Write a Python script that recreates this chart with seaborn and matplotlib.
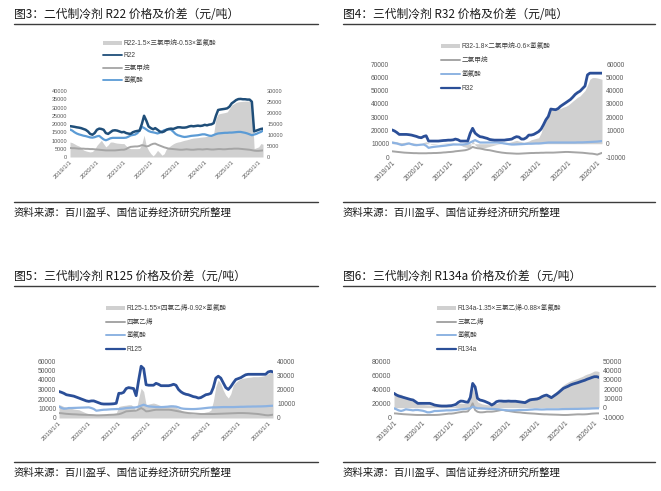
import pandas as pd
import seaborn as sns
import matplotlib.pyplot as plt
from matplotlib.lines import Line2D
from matplotlib.patches import Patch

sns.set_style('white')
plt.rcParams['font.family'] = ['Liberation Sans', 'Noto Sans CJK SC']
plt.rcParams['axes.unicode_minus'] = False

# monthly readings, 2019-01 .. 2026-03
dates = pd.date_range('2019-01-01', '2026-03-01', freq='MS')
tick_years = pd.to_datetime([f'{y}-01-01' for y in range(2019, 2027)])
tick_labels = [f'{y}/1/1' for y in range(2019, 2027)]

# --- fig 3: R22 ---
r22 = [
    18700, 18500, 18300, 18000, 17800, 17500, 17000, 16500, 15500, 14000, 13500, 14500,
    16500, 17200, 17000, 16500, 14500, 14000, 15000, 16000, 16200, 16000, 15500, 15000,
    15200, 14500, 14200, 14000, 15000, 15500, 15800, 16000, 20000, 25000, 22000, 18500,
    17500, 16800, 17500, 16500, 15500, 15000, 15500, 16500, 17000, 17200, 17000, 17500,
    18000, 18000, 17800, 17800, 18000, 18500, 18800, 18600, 18800, 19000, 18800, 19000,
    19500, 19200, 19600, 19800, 20500, 25000, 28500, 28800, 29000, 29200, 29500, 30500,
    32500, 33500, 34500, 35100, 35200, 35000, 35000, 34800, 34800, 33500, 15500, 16000,
    16500, 17000, 17200]
hf_r22 = [
    12500, 12000, 11300, 10700, 10300, 10000, 9700, 9500, 9200, 8900, 8800, 9000,
    9400, 9600, 8800, 8000, 7600, 8000, 8500, 8700, 8700, 8700, 8700, 8700,
    8700, 8800, 9200, 9800, 10000, 10200, 10800, 12000, 13700, 13200, 12500, 11800,
    11400, 11200, 11000, 10700, 11000, 11600, 12200, 12400, 12600, 12400, 11500, 10500,
    9900, 9600, 9300, 9100, 9200, 9400, 9600, 9700, 9800, 9900, 10100, 10300,
    10300, 10000, 9700, 9600, 10000, 10400, 10700, 10800, 10900, 11000, 11000, 11100,
    11100, 11200, 11300, 11400, 11400, 11200, 11000, 10700, 10300, 9900, 10200, 10500,
    11000, 11400, 12000]
chcl3 = [
    4100, 4000, 4000, 3900, 3800, 3800, 3800, 3700, 3700, 3600, 3600, 3500,
    3400, 3300, 3200, 3100, 3000, 3000, 3000, 3000, 3000, 3100, 3200, 3300,
    3300, 3600, 4200, 4600, 4700, 4800, 4800, 5000, 5400, 5200, 4800, 5000,
    5600, 6000, 6100, 5600, 5200, 4800, 4400, 4100, 3800, 3700, 3600, 3500,
    3400, 3300, 3300, 3400, 3500, 3400, 3300, 3300, 3400, 3500, 3500, 3400,
    3500, 3600, 3500, 3400, 3400, 3500, 3600, 3600, 3500, 3500, 3600, 3700,
    3700, 3800, 3800, 3800, 3700, 3600, 3500, 3400, 3300, 3100, 2900, 2800,
    2800, 2900, 3000]
spread_r22 = [
    6800, 6500, 6000, 5400, 5000, 4300, 3200, 2800, 2500, 2300, 2500, 3500,
    5300, 6500, 7600, 6000, 4600, 5500, 6800, 6800, 6500, 6300, 6200, 6100,
    6100, 5000, 4200, 3800, 3800, 3800, 3800, 3900, 6000, 9900, 5000, 3000,
    1500, 500, 1500, 3000, 2000, 800, 1500, 3800, 4500, 5300, 6000, 6500,
    6800, 7000, 7300, 7600, 7800, 8100, 8400, 8600, 8700, 8800, 9000, 9100,
    9200, 9400, 9600, 9800, 10500, 17500, 19500, 19800, 20000, 20200, 20500, 22000,
    23600, 24200, 24800, 25100, 25200, 25300, 25400, 25400, 25400, 24300, 3800, 4200,
    4600, 6100, 5800]

# --- fig 4: R32 ---
r32 = [
    20400, 19600, 18500, 17000, 17000, 17000, 17000, 16800, 16500, 16000, 15500, 14800,
    14500, 15500, 16000, 12000, 12000, 12000, 12000, 12000, 12200, 12400, 12500, 12700,
    12700, 12900, 13500, 13000, 12000, 12000, 12000, 12000, 17800, 21600, 18000, 16500,
    15300, 15000, 14500, 14000, 13200, 12900, 12700, 12700, 12700, 12700, 12700, 13000,
    13200, 13500, 14500, 15300, 15000, 13500, 13500, 14500, 16500, 16500, 17000, 18000,
    19100, 21000, 24200, 28000, 30500, 36100, 35800, 35600, 36500, 38200, 39500, 40700,
    42000, 43300, 45000, 47100, 48500, 49600, 51500, 53400, 61800, 63100, 63100, 63100,
    63100, 63100, 63100]
hf_r32 = [
    10900, 10500, 10200, 9600, 9000, 9300, 9800, 10200, 9600, 9100, 8900, 9100,
    9300, 9400, 8500, 6900, 7300, 7600, 7800, 8000, 8200, 8400, 8600, 8900,
    9100, 9400, 9400, 9400, 9400, 9400, 9600, 10000, 10900, 11800, 12700, 11800,
    10900, 10900, 10900, 10900, 10900, 10900, 10900, 10900, 10700, 10500, 10200, 9900,
    9600, 9400, 9400, 9500, 9600, 9700, 9800, 9900, 10000, 10000, 10100, 10200,
    10200, 10300, 10500, 10700, 10900, 10900, 10900, 10900, 10900, 10900, 10900, 10900,
    10900, 10900, 10900, 10900, 11000, 11000, 11000, 11100, 11200, 11300, 11400, 11500,
    11600, 11800, 12000]
ch2cl2 = [
    4300, 4100, 3900, 3700, 3500, 3300, 3200, 3100, 3000, 2900, 2900, 2800,
    2800, 2800, 2800, 2900, 2900, 3000, 3000, 3100, 3200, 3400, 3500, 3700,
    3800, 4000, 4300, 4500, 4700, 4900, 5100, 5600, 6400, 7600, 7000, 6600,
    6400, 6000, 5600, 5300, 5100, 4700, 4300, 3900, 3600, 3300, 3100, 2900,
    2800, 2700, 2600, 2500, 2500, 2600, 2700, 2800, 2900, 3000, 3000, 3100,
    3100, 3200, 3200, 3300, 3300, 3300, 3300, 3400, 3500, 3600, 3700, 3800,
    3800, 3700, 3600, 3500, 3400, 3300, 3200, 3000, 2800, 2600, 2500, 2200,
    1800, 2500, 3100]
spread_r32 = [
    2000, 1800, 1500, 1000, 800, 1000, 1200, 1000, 800, 500, 300, 0,
    0, 1000, 1500, 500, -500, -500, -300, 0, 200, 300, 500, 500,
    500, 500, 300, 0, -1000, -2000, -2500, -3000, -2500, 3000, -1000, -2500,
    -3000, -3500, -3000, -2500, -2000, -1500, -1000, -500, -200, 0, 500, 800,
    1000, 1500, 2000, 2500, 2000, 1500, 1000, 1500, 2000, 3000, 3500, 4000,
    4500, 8000, 14000, 19000, 24000, 25500, 25000, 25500, 26000, 26500, 27500, 28000,
    29000, 30500, 32000, 33500, 35000, 36000, 38000, 40000, 44000, 48500, 49800, 49800,
    49500, 49000, 48500]

# --- fig 5: R125 ---
r125 = [
    27900, 27000, 26000, 24500, 24000, 23500, 23000, 22000, 21000, 20000, 19000, 18000,
    17500, 18000, 18000, 17000, 16000, 15000, 14700, 14700, 14700, 14800, 15000, 15500,
    26000, 26000, 27000, 31000, 32000, 31500, 31000, 23500, 40000, 54500, 52000, 35000,
    34500, 34500, 34500, 36500, 35500, 34000, 34000, 34000, 34000, 34500, 35500, 34500,
    30000, 27500, 26000, 25000, 24500, 23500, 22500, 22000, 21000, 21500, 23000, 24500,
    25000, 26000, 32000, 42000, 44000, 42000, 37000, 32000, 30000, 33000, 37000, 40500,
    41500, 42500, 44000, 45500, 46000, 46000, 46000, 46000, 46000, 46000, 46000, 46000,
    48500, 49200, 48500]
hf_r125 = [
    12200, 10500, 9800, 10000, 10500, 10500, 10600, 10700, 10800, 10900, 11000, 11100,
    11200, 10500, 9500, 7700, 8000, 8400, 8700, 8800, 9000, 9200, 9300, 9400,
    9500, 9700, 10000, 10500, 10700, 10900, 11000, 11200, 12000, 13000, 14000, 13000,
    12200, 12000, 11800, 11600, 11500, 11500, 11600, 11800, 12000, 12200, 12200, 12000,
    11200, 10200, 9800, 9600, 9500, 9400, 9400, 9500, 9700, 9900, 10200, 10500,
    10800, 11000, 11200, 11200, 11300, 11400, 11500, 11500, 11500, 11500, 11500, 11600,
    11700, 11800, 11800, 11900, 12000, 12000, 12100, 12100, 12200, 12200, 12300, 12400,
    12600, 12800, 12900]
c2cl4 = [
    5200, 5000, 4700, 4400, 4200, 4000, 3900, 3800, 3600, 3500, 3400, 3300,
    3200, 3100, 3000, 2800, 2800, 2900, 3000, 3100, 3300, 3400, 3500, 3700,
    4000, 4800, 5800, 7000, 7200, 7400, 7600, 7700, 9000, 10500, 9000, 7000,
    7200, 7800, 8300, 8700, 8700, 8700, 8700, 8700, 8700, 8500, 8000, 7500,
    7000, 6500, 6000, 5600, 5200, 5000, 4800, 4600, 4400, 4200, 4200, 4200,
    4200, 4200, 4200, 4300, 4400, 4500, 4600, 4700, 4800, 4900, 5000, 5100,
    5200, 5200, 5200, 5100, 5000, 4800, 4600, 4400, 4200, 3800, 3400, 3000,
    2800, 3100, 3500]
spread_r125 = [
    9300, 8800, 8000, 7500, 7000, 6700, 6300, 6000, 5800, 5000, 4200, 3500,
    3000, 2600, 2400, 2300, 2300, 2300, 2300, 2300, 2500, 2800, 3200, 3500,
    8100, 8500, 8800, 9000, 9300, 9300, 8000, 4700, 14000, 20900, 18600, 9300,
    9800, 10200, 10500, 10000, 9300, 8600, 8100, 8500, 9000, 9300, 9000, 7500,
    6500, 5500, 4700, 4000, 3500, 3000, 2800, 2800, 3000, 3500, 3800, 4200,
    4500, 5500, 11600, 22000, 26700, 24000, 19500, 16000, 14000, 17000, 23300, 25000,
    26500, 27500, 27900, 28200, 28500, 28700, 29000, 29000, 29000, 29200, 29500, 30000,
    31000, 32600, 31400]

# --- fig 6: R134a ---
r134a = [
    33800, 31500, 30000, 29000, 28000, 27000, 26000, 25000, 24300, 22000, 19500, 19500,
    19500, 19500, 19500, 19500, 18500, 17100, 16500, 16000, 15700, 15700, 15700, 16000,
    16200, 17000, 18100, 21000, 22800, 22500, 21500, 21000, 28000, 48000, 43000, 26700,
    24300, 23500, 22500, 21000, 19500, 17100, 19000, 21900, 22800, 22800, 22500, 22500,
    22800, 22500, 22500, 22500, 22000, 21500, 21000, 20500, 22500, 24300, 25000, 25300,
    25700, 27000, 29000, 30500, 31400, 29500, 27600, 30000, 32400, 35000, 38000, 40900,
    42500, 44000, 45700, 47000, 48000, 49000, 50200, 51400, 52500, 54000, 55200, 56500,
    57600, 57600, 56600]
hf_r134a = [
    12400, 11000, 9500, 8600, 9500, 11000, 10500, 10000, 9500, 10000, 10000, 9500,
    9000, 8000, 6700, 6700, 7500, 8600, 8600, 8800, 9000, 9200, 9500, 9500,
    9500, 9800, 10000, 10500, 11000, 11200, 11500, 12000, 12400, 14800, 13500, 12400,
    12400, 12200, 12000, 11800, 11600, 11400, 11400, 11200, 11000, 10500, 10000, 9700,
    9500, 9500, 9500, 9600, 9800, 10000, 10000, 10000, 10200, 10500, 10700, 11000,
    11000, 10800, 10700, 10800, 11000, 11000, 11000, 11000, 11000, 11000, 11200, 11300,
    11400, 11400, 11500, 11500, 11600, 11600, 11700, 11800, 11800, 11900, 12000, 12200,
    12300, 12400, 12400]
tce = [
    5200, 5000, 4600, 4300, 4000, 3800, 3600, 3400, 3200, 3000, 2900, 2900,
    2900, 2900, 2900, 2900, 2900, 2900, 3000, 3200, 3600, 4000, 4400, 4800,
    4800, 5200, 5800, 6500, 7000, 7600, 7600, 8000, 12400, 19500, 10000, 7500,
    6700, 6700, 7000, 7600, 7600, 7600, 8000, 8600, 9300, 10000, 10000, 9000,
    8600, 8000, 7500, 7000, 6700, 6500, 6000, 5700, 5400, 5200, 5000, 4800,
    4500, 4200, 4000, 3800, 3800, 3600, 3500, 3400, 3300, 3200, 3000, 2900,
    2900, 3000, 3200, 3400, 3600, 3800, 3800, 3700, 3800, 4000, 4400, 4800,
    5000, 5200, 5200]
spread_r134a = [
    16000, 15200, 14700, 14300, 12500, 11500, 10700, 9500, 8200, 6500, 4600, 4000,
    3500, 3200, 3000, 2900, 2700, 2500, 2300, 2200, 2100, 2000, 1800, 1500,
    1200, 1100, 2500, 4600, 4800, 4600, 4600, 4600, 11800, 20700, 14000, 6400,
    5000, 4000, 3600, 3200, 2900, 3000, 4000, 4600, 5500, 6500, 7300, 8000,
    8200, 8200, 7500, 7000, 6400, 6400, 6800, 8000, 10000, 10500, 11000, 11500,
    11800, 12300, 12800, 13500, 14500, 14000, 13000, 15400, 17100, 19500, 22000, 24300,
    26000, 27500, 28600, 29500, 30500, 31400, 32500, 33500, 35000, 36000, 36800, 38000,
    39300, 39300, 38600]

W, H = 661, 491
fig = plt.figure(figsize=(W / 100, H / 100), dpi=100)

FILL = '#d0d0d0'
GRAY = '#a5a5a5'
TXT = '#595959'
NAVY = '#1f4e79'
BLUE = '#2b4f98'
MIDBLUE = '#5b9bd5'
LIGHTBLUE = '#8db3e2'


def fx(px):
    return px / W


def fy(py):
    return 1 - py / H


def header(x0, x1, y_title, y_top, y_bot, y_src, title):
    fig.text(fx(x0), fy(y_title), title, fontsize=8.5, va='center', ha='left',
             color='#1a1a1a', family=['Noto Sans CJK SC'])
    for y in (y_top, y_bot):
        fig.add_artist(Line2D([fx(x0), fx(x1)], [fy(y), fy(y)], color='#3c3c3c', lw=1.0))
    fig.text(fx(x0), fy(y_src), '资料来源：百川盈孚、国信证券经济研究所整理', fontsize=7.5,
             va='center', ha='left', color='#1a1a1a', family=['Noto Sans CJK SC'])


def panel(box, df, spread_col, right_lines, left_lines, llim, rlim, ysize, xsize,
          leg_xy, leg_gap, leg_items):
    x0, y0, x1, y1 = box
    ax = fig.add_axes([fx(x0), fy(y1), (x1 - x0) / W, (y1 - y0) / H])
    ax2 = ax.twinx()
    ax2.fill_between(df['date'], 0, df[spread_col], color=FILL, lw=0)
    for col, c, lw in right_lines:
        sns.lineplot(data=df, x='date', y=col, ax=ax2, color=c, lw=lw)
    for col, c, lw in left_lines:
        sns.lineplot(data=df, x='date', y=col, ax=ax, color=c, lw=lw)
    ax.set_zorder(ax2.get_zorder() + 1)
    ax.patch.set_visible(False)
    for a, (lo, hi, step), pad in ((ax, llim, 2), (ax2, rlim, 3)):
        a.set_ylim(lo, hi)
        a.set_yticks(range(lo, hi + 1, step))
        a.tick_params(axis='y', labelsize=ysize, labelcolor=TXT, length=0, pad=pad)
        a.set_ylabel('')
        a.set_xlabel('')
        for s in a.spines.values():
            s.set_visible(False)
    ax.set_xlim(df['date'].iloc[0], df['date'].iloc[-1])
    ax.set_xticks(tick_years)
    ax.set_xticklabels(tick_labels, rotation=45, ha='right', rotation_mode='anchor',
                       fontsize=xsize, color=TXT)
    ax.tick_params(axis='x', length=0, pad=2)

    handles, labels = [], []
    for c, lw, text in leg_items:
        if lw == 0:
            handles.append(Patch(facecolor=c, edgecolor='none'))
        else:
            handles.append(Line2D([0], [0], color=c, lw=lw))
        labels.append(text)
    ax.legend(handles, labels, loc='upper left', bbox_to_anchor=(fx(leg_xy[0]), fy(leg_xy[1])),
              bbox_transform=fig.transFigure, frameon=False, fontsize=4.8, labelcolor='#404040',
              handlelength=2.8, handleheight=0.6, handletextpad=0.3, labelspacing=leg_gap,
              borderpad=0, borderaxespad=0)


df3 = pd.DataFrame({'date': dates, 'R22': r22, 'HF': hf_r22, 'CHCl3': chcl3, 'spread': spread_r22})
df4 = pd.DataFrame({'date': dates, 'R32': r32, 'HF': hf_r32, 'CH2Cl2': ch2cl2, 'spread': spread_r32})
df5 = pd.DataFrame({'date': dates, 'R125': r125, 'HF': hf_r125, 'C2Cl4': c2cl4, 'spread': spread_r125})
df6 = pd.DataFrame({'date': dates, 'R134a': r134a, 'HF': hf_r134a, 'TCE': tce, 'spread': spread_r134a})

header(14, 318, 15, 24, 202, 213, '图3：二代制冷剂 R22 价格及价差（元/吨）')
panel((70, 91, 263, 157), df3, 'spread',
      [('CHCl3', GRAY, 1.4), ('HF', MIDBLUE, 1.6)], [('R22', NAVY, 1.8)],
      (0, 40000, 5000), (0, 30000, 5000), 4.0, 4.4, (103, 40), 0.8,
      [(FILL, 0, 'R22-1.5×三氯甲烷-0.53×氢氟酸'), (NAVY, 1.3, 'R22'),
       (GRAY, 1.3, '三氯甲烷'), (MIDBLUE, 1.3, '氢氟酸')])

header(343, 655, 15, 24, 202, 213, '图4：三代制冷剂 R32 价格及价差（元/吨）')
panel((392, 64, 602, 157), df4, 'spread', [],
      [('CH2Cl2', GRAY, 1.4), ('HF', LIGHTBLUE, 1.6), ('R32', BLUE, 2.0)],
      (0, 70000, 10000), (-10000, 60000, 10000), 4.8, 4.8, (441, 43), 1.05,
      [(FILL, 0, 'R32-1.8×二氯甲烷-0.6×氢氟酸'), (GRAY, 1.4, '二氯甲烷'),
       (LIGHTBLUE, 1.4, '氢氟酸'), (BLUE, 1.6, 'R32')])

header(14, 318, 277, 286, 462, 473, '图5：三代制冷剂 R125 价格及价差（元/吨）')
panel((59, 361, 273, 418), df5, 'spread', [],
      [('C2Cl4', GRAY, 1.4), ('HF', LIGHTBLUE, 1.6), ('R125', BLUE, 2.0)],
      (0, 60000, 10000), (0, 40000, 10000), 4.8, 4.6, (106, 305), 1.0,
      [(FILL, 0, 'R125-1.55×四氯乙烯-0.92×氢氟酸'), (GRAY, 1.4, '四氯乙烯'),
       (LIGHTBLUE, 1.4, '氢氟酸'), (BLUE, 1.6, 'R125')])

header(343, 655, 277, 286, 462, 473, '图6：三代制冷剂 R134a 价格及价差（元/吨）')
panel((394, 361, 599, 417), df6, 'spread', [],
      [('TCE', GRAY, 1.4), ('HF', LIGHTBLUE, 1.6), ('R134a', BLUE, 2.0)],
      (0, 80000, 20000), (-10000, 50000, 10000), 5.0, 4.8, (437, 305), 1.0,
      [(FILL, 0, 'R134a-1.35×三氯乙烯-0.88×氢氟酸'), (GRAY, 1.4, '三氯乙烯'),
       (LIGHTBLUE, 1.4, '氢氟酸'), (BLUE, 1.6, 'R134a')])

fig.savefig('out.png', dpi=100)
